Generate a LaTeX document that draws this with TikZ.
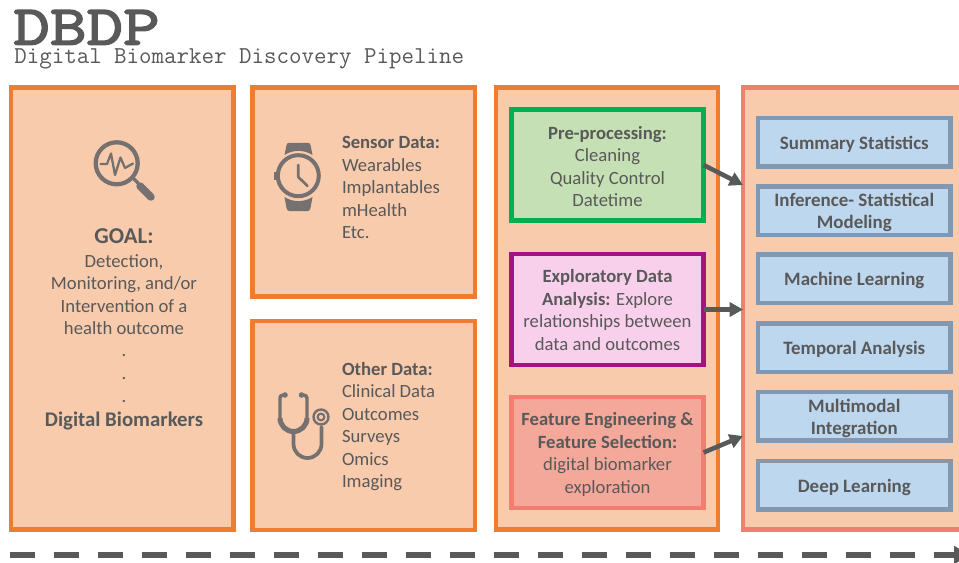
\documentclass[tikz,border=0pt]{standalone}
\usepackage{fontspec}
\setmainfont{Carlito}
\newfontfamily\titlefont[FakeStretch=1.27,FakeBold=3]{Latin Modern Mono}
\usetikzlibrary{arrows.meta}
\definecolor{boxfill}{HTML}{F8CBAD}
\definecolor{orangeline}{HTML}{ED7D31}
\definecolor{greenfill}{HTML}{C5E0B4}
\definecolor{greenline}{HTML}{00B050}
\definecolor{pinkfill}{HTML}{F8D0EC}
\definecolor{pinkline}{HTML}{A0157F}
\definecolor{redfill}{HTML}{F4A89A}
\definecolor{redline}{HTML}{F07F72}
\definecolor{bluefill}{HTML}{BDD7EE}
\definecolor{blueline}{HTML}{8497B0}
\definecolor{txt}{HTML}{595959}
\definecolor{icon}{HTML}{767171}
\newcommand{\bodysize}{\fontsize{14}{16.9}\selectfont}
\tikzset{
  x=0.75pt,y=-0.75pt,
  panel/.style={draw,line width=3.4pt,inner sep=0pt,outer sep=0pt},
  bigbox/.style={panel,draw=orangeline,fill=boxfill},
  innerbox/.style={panel,minimum width=144pt,minimum height=83pt},
  bluebox/.style={panel,draw=blueline,fill=bluefill,minimum width=144.4pt,minimum height=36.4pt},
  body/.style={text=txt,font=\bodysize,inner sep=0pt,outer sep=0pt,align=center},
  bluetext/.style={body,font=\fontsize{14.2}{16.9}\selectfont\bfseries},
  flow/.style={draw=txt,line width=3.4pt,-{Triangle[length=10pt,width=10.5pt]}},
  iconline/.style={draw=icon,line cap=round,line join=round},
}
\begin{document}
\begin{tikzpicture}
\useasboundingbox (0,0) rectangle (959,563);
\fill[white] (0,0) rectangle (959,563);
% title
\node[anchor=base west,inner sep=0pt,text=txt,font=\fontsize{42}{42}\titlefont] (title) at (13,44.5) {DBDP};
\node[anchor=base west,inner sep=0pt,text=txt,font=\fontsize{18.2}{18}\ttfamily] (subtitle) at (14,63.5) {Digital Biomarker Discovery Pipeline};
% outer boxes
\node[bigbox,minimum width=166.8pt,minimum height=331.6pt] (goal) at (122.4,308.6) {};
\node[bigbox,minimum width=166.8pt,minimum height=156.5pt] (sensor) at (363.8,191.9) {};
\node[bigbox,minimum width=166.8pt,minimum height=156.5pt] (other) at (363.8,425.5) {};
\node[bigbox,minimum width=166.8pt,minimum height=331.6pt] (prep) at (607,308.6) {};
\node[bigbox,draw=redline,minimum width=175pt,minimum height=331.6pt,anchor=west] (analysis) at (743,308.6) {};
% goal text
\node[body,font=\fontsize{17}{16.9}\selectfont\bfseries] (goalhead) at (124,236) {GOAL:};
\node[body] (goaltext) at (124,294.5) {Detection,\\Monitoring, and/or\\Intervention of a\\health outcome};
\node[body] (dots) at (124,378.5) {.\\.\\.};
\node[body,font=\fontsize{15.6}{16.9}\selectfont\bfseries] (biomarkers) at (124,420.5) {Digital Biomarkers};
% data text
\node[body,anchor=west,align=left] (sensortext) at (342,187.8) {\textbf{Sensor Data:}\\Wearables\\Implantables\\mHealth\\Etc.};
\node[body,anchor=west,align=left] (othertext) at (342,426.5) {\textbf{Other Data:}\\Clinical Data\\Outcomes\\Surveys\\Omics\\Imaging};
% inner boxes
\node[innerbox,draw=greenline,fill=greenfill] (clean) at (607.5,165) {};
\node[body] (cleantext) at (607.5,166.5) {\textbf{Pre-processing:}\\Cleaning\\Quality Control\\Datetime};
\node[innerbox,draw=pinkline,fill=pinkfill] (eda) at (607.5,309.5) {};
\node[body] (edatext) at (607.5,310) {\textbf{Exploratory Data}\\\textbf{Analysis:} Explore\\relationships between\\data and outcomes};
\node[innerbox,draw=redline,fill=redfill] (feature) at (607.5,452.5) {};
\node[body] (featuretext) at (607.5,454.5) {\textbf{Feature Engineering \&}\\\textbf{Feature Selection:}\\digital biomarker\\exploration};
% method boxes
\node[bluebox] (summary) at (854.3,142.3) {};
\node[bluebox] (inference) at (854.3,210.5) {};
\node[bluebox] (ml) at (854.3,278.5) {};
\node[bluebox] (temporal) at (854.3,347.5) {};
\node[bluebox] (multi) at (854.3,416.3) {};
\node[bluebox] (deep) at (854.3,485.2) {};
\node[bluetext] (summarytext) at ([yshift=-1.5pt]summary) {Summary Statistics};
\node[bluetext] (inferencetext) at ([yshift=-1.5pt]inference) {Inference- Statistical\\Modeling};
\node[bluetext] (mltext) at ([yshift=-1.5pt]ml) {Machine Learning};
\node[bluetext] (temporaltext) at ([yshift=-1.5pt]temporal) {Temporal Analysis};
\node[bluetext] (multitext) at ([yshift=-1.5pt]multi) {Multimodal\\Integration};
\node[bluetext] (deeptext) at ([yshift=-1.5pt]deep) {Deep Learning};
% arrows
\coordinate (t1) at (743,185);
\coordinate (t2) at (743,309.5);
\coordinate (t3) at (743,436);
\draw[flow] (clean.east) -- (t1);
\draw[flow] (eda.east) -- (t2);
\draw[flow] (feature.east) -- (t3);
% timeline
\coordinate (flowstart) at (10,555);
\coordinate (flowend) at (970,555);
\draw[draw=txt,line width=4pt,dash pattern=on 18.9pt off 14.1pt,-{Triangle[length=12pt,width=13pt]}] (flowstart) -- (flowend);
% magnifier icon
\draw[iconline,line width=3.2pt] (116.7,163.3) circle (21);
\draw[iconline,line width=2.4pt] (134,179) -- (138,183);
\draw[iconline,line width=5.6pt] (140,186) -- (151,197);
\draw[iconline,line width=1.7pt] (100.5,164) -- (107,164) -- (111,153.5) -- (115,175) -- (120.5,157.5) -- (125,168) -- (133,163.5);
% watch icon
\draw[iconline,line width=3pt] (298.3,175.7) circle (20.5);
\fill[icon] (274,172) rectangle (279,180);
\draw[iconline,line width=2pt] (298.3,165) -- (298.3,177) -- (307.5,186);
\fill[icon] (284.5,155) -- (286.5,145) .. controls (287,143) and (288,143) .. (289,143) -- (308,143) .. controls (309,143) and (310,143) .. (310.5,145) -- (312.5,155) .. controls (304,149.5) and (293,149.5) .. (284.5,155) -- cycle;
\fill[icon] (284.5,197) -- (286.5,208) .. controls (287,210) and (288,211) .. (289,211) -- (308,211) .. controls (309,211) and (310,210) .. (310.5,208) -- (312.5,197) .. controls (304,202.5) and (293,202.5) .. (284.5,197) -- cycle;
% stethoscope icon
\draw[iconline,line width=2.6pt] (285,395) -- (283,395) .. controls (281,395) and (280,396.5) .. (280,398) -- (280,418);
\draw[iconline,line width=2.6pt] (301.5,395) -- (303.5,395) .. controls (305.5,395) and (307,396.5) .. (307,398) -- (307,418);
\fill[icon] (285,395) circle (2.8);
\fill[icon] (301.5,395) circle (2.8);
\draw[iconline,line width=3.8pt,line cap=butt] (280,418) arc[start angle=180,end angle=0,radius=13.5];
\draw[iconline,line width=2.8pt] (293.5,431) -- (293.5,444) arc[start angle=180,end angle=0,radius=14] -- (321.5,427);
\draw[iconline,line width=1.8pt] (321,417) circle (7.5);
\draw[iconline,line width=1.6pt] (321,417) circle (3.4);
\end{tikzpicture}
\end{document}
